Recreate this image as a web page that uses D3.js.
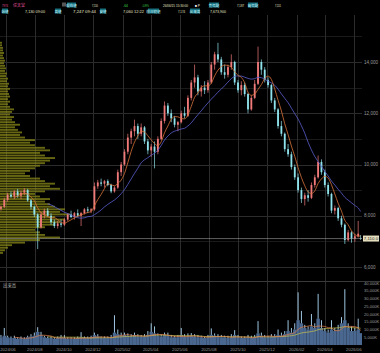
<!DOCTYPE html>
<html><head><meta charset="utf-8">
<script src="https://cdn.jsdelivr.net/npm/d3@7"></script>
<style>
html,body{margin:0;padding:0;background:#000;overflow:hidden}
svg{display:block}
text{font-family:"Liberation Sans","Noto Sans CJK JP",sans-serif}
</style>
</head><body>
<svg id="c" width="380" height="353"></svg>
<script>
// ---------- DATA (weekly, from week of 2024-05-20) ----------
const firstWeek = "2024-05-20";
const lastDay = "2026-06-15";
const opens  = [8270,8350,8620,8820,8750,8950,8780,8900,9000,8600,8350,8050,7550,8050,8200,8000,7750,7600,7700,7650,7850,8050,7950,8100,8000,8100,8250,8200,8250,9150,9300,9250,9350,9200,8950,9100,9700,10000,10500,11050,11300,11500,11200,11450,10900,10550,10700,10500,11000,11700,12300,12000,11800,11550,11650,12000,11900,12600,13200,13400,12850,13000,12900,13200,13900,14300,14100,13600,13500,13800,14000,13200,12900,13100,12750,12150,12600,13150,14000,13700,13300,13100,12500,12150,11500,11200,10600,10400,9900,9500,9000,8650,8800,8700,9200,9500,10100,9700,9200,8850,8200,8300,7900,7650,7050,7350,7100,7200,7130];
const highs  = [8400,8700,8900,8950,9000,9050,8980,9080,9050,8650,8400,8100,8150,8280,8300,8100,7850,7800,7850,7900,8100,8200,8150,8250,8150,8300,8350,8300,9300,9400,9450,9400,9420,9250,9150,9800,10100,10600,11200,11400,11750,11600,11600,11500,11000,10800,10900,11100,11800,12460,12400,12150,11900,11700,12100,12250,12700,13300,13900,13500,13100,13250,13300,14000,14400,14750,14200,13900,13900,14300,14050,13300,13250,13200,12800,12700,13300,14600,14100,13800,13400,13150,12600,12200,11700,11250,10800,10500,10000,9650,9100,8900,9000,9300,9600,10350,10200,9800,9300,8900,8400,8350,8000,7700,7450,7400,7300,7800,7247];
const lows   = [8200,8300,8550,8700,8650,8700,8650,8800,8550,8250,7950,6700,7500,7900,7950,7650,7520,7500,7550,7600,7800,7900,7850,7950,7600,8050,8100,8100,8200,9050,9150,9100,9150,8880,8900,9050,9550,9950,10400,10800,11100,11000,11100,10800,10400,10300,9850,10400,10950,11600,11900,11650,11450,11300,11600,11800,11850,12500,13000,12700,12650,12750,12800,13150,13700,14000,13500,13350,13400,13700,13100,12800,12700,12650,12000,12100,12550,13100,13500,13200,13000,12400,12050,11400,11100,10500,10300,9800,9400,8900,8500,8400,8550,8650,9100,9450,9600,9100,8750,8100,8050,7800,7550,6900,7000,6950,6980,7150,7060];
const closes = [8350,8620,8820,8750,8950,8780,8900,9000,8600,8350,8050,7550,8050,8200,8000,7750,7600,7700,7650,7850,8050,7950,8100,8000,8100,8250,8200,8250,9150,9300,9250,9350,9200,8950,9100,9700,10000,10500,11050,11300,11500,11200,11450,10900,10550,10700,10500,11000,11700,12300,12000,11800,11550,11650,12000,11900,12600,13200,13400,12850,13000,12900,13200,13900,14300,14100,13600,13500,13800,14000,13200,12900,13100,12750,12150,12600,13150,14000,13700,13300,13100,12500,12150,11500,11200,10600,10400,9900,9500,9000,8650,8800,8700,9200,9500,10100,9700,9200,8850,8200,8300,7900,7650,7050,7350,7100,7200,7300,7110];
// daily volume in thousand shares: typical level of the week and the week's peak day
const volAvg = [5000,6000,5000,4500,4500,4000,4500,4000,5000,5500,6000,8500,6500,5000,4500,4500,4000,4500,5000,4500,4000,4000,4000,4500,5000,4500,4500,5000,6500,5500,4500,4500,4500,5000,8000,7000,6000,6500,6000,5500,6500,5500,5500,5500,6500,8500,7500,6000,5500,6500,6000,5000,5000,5000,6500,5500,5500,6000,5500,5000,5000,4500,5000,6500,6000,5500,5000,5000,4500,5000,6500,5000,4500,4500,5000,4500,5000,7500,6000,5000,5000,5500,5500,6500,6000,7000,9000,8000,10000,16000,14000,11000,10000,12000,11000,17000,11000,9000,8000,10000,9000,10000,14000,16000,11000,9000,9000,10000,7674];
const volMax = [6500,11000,6000,5500,6000,5000,5500,5000,6000,7000,8000,11500,8500,6000,5500,5500,5000,5500,6500,6400,5000,5000,5000,5500,8300,5500,5500,6000,8000,7000,5500,5500,5500,6500,19200,10000,8000,8000,7500,7000,8000,7000,6500,7000,9000,14000,12000,7500,7000,8000,8000,6500,6000,6500,11000,7000,7500,7700,7000,6500,6000,5500,6500,10700,7500,7000,6500,6000,6000,7000,9600,6500,5500,5500,6500,6000,6500,15400,8000,6500,6000,7000,7000,10000,8000,9000,16000,11000,14000,34000,22000,13000,12000,20000,14000,33000,16000,11000,10000,16000,11000,13000,18000,36000,14000,12000,11000,17000,7674];
// volume-by-price profile (x10,000 shares per 100-yen level, starting at 6,500)
const profileStart = 6500, profileStep = 100;
const profileVol = [3,5,8,12,25,40,60,45,40,35,45,55,60,65,55,70,60,65,55,50,45,50,40,35,45,60,50,55,45,40,30,25,30,35,40,45,50,55,45,40,50,45,35,30,35,25,20,22,18,15,20,15,12,14,10,12,14,10,8,10,8,10,9,8,10,8,9,7,8,6,7,5,6,5,4,5,4,3,4,3,3,2,2];
const priceTicks = [6000,8000,10000,12000,14000];
const priceGrid = [6000,7000,8000,9000,10000,11000,12000,13000,14000,15000];
const volTicks = [5000,10000,15000,20000,25000,30000,35000,40000];
const monthLabels = ["2024/06","2024/08","2024/10","2024/12","2025/02","2025/04","2025/06","2025/08","2025/10","2025/12","2026/02","2026/04","2026/06"];
const lastPrice = 7110;
const maShort = 5, maLong = 15; // weeks (≈25 / 75 days)

// ---------- DRAW ----------
const svg = d3.select("#c");
const W = 380, plotR = 362, pTop = 15, pBot = 281, vTop = 281, vBot = 345;
const parse = d3.timeParse("%Y-%m-%d");
const start = parse(firstWeek), endDay = parse(lastDay);
const dates = opens.map((_, i) => d3.timeDay.offset(start, 7 * i));
const x = d3.scaleTime().domain([start, parse("2026-06-18")]).range([0, plotR]);
const cx = (d) => { let m = d3.timeDay.offset(d, 2); if (m > endDay) m = endDay; return x(m); };
const y = d3.scaleLinear().domain([6000, 14000]).range([267, 62]);
const yv = d3.scaleLinear().domain([0, 40000]).range([vBot, 283]);
const fmt = d3.format(",");

svg.append("rect").attr("width", W).attr("height", 353).attr("fill", "#000");
const defs = svg.append("defs");
defs.append("clipPath").attr("id", "pc").append("rect").attr("x", 0).attr("y", pTop).attr("width", plotR).attr("height", pBot - pTop);
defs.append("clipPath").attr("id", "vc").append("rect").attr("x", 0).attr("y", vTop).attr("width", plotR).attr("height", vBot - vTop);

// grid
const g = svg.append("g");
g.selectAll(".hg").data(priceGrid).join("line")
  .attr("x1", 0).attr("x2", plotR).attr("y1", d => Math.round(y(d)) + 0.5).attr("y2", d => Math.round(y(d)) + 0.5)
  .attr("stroke", d => d % 2000 === 0 ? "#2c2c2c" : "#1a1a1a").attr("stroke-width", 1)
  .attr("clip-path", "url(#pc)");
const monthDates = monthLabels.map(m => d3.timeParse("%Y/%m")(m));
g.selectAll(".vg").data(monthDates).join("line")
  .attr("x1", d => Math.round(x(d)) + 0.5).attr("x2", d => Math.round(x(d)) + 0.5)
  .attr("y1", pTop).attr("y2", vBot).attr("stroke", "#2c2c2c");
svg.append("line").attr("x1", 0).attr("x2", W).attr("y1", pBot + 0.5).attr("y2", pBot + 0.5).attr("stroke", "#3a3a3a");

// volume profile
const pw = d3.scaleLinear().domain([0, 100]).range([0, 100]);
svg.append("g").attr("clip-path", "url(#pc)").selectAll("rect").data(profileVol).join("rect")
  .attr("x", 0)
  .attr("y", (d, i) => y(profileStart + profileStep * (i + 0.5)) - 1)
  .attr("height", 1.9)
  .attr("width", d => pw(d))
  .attr("fill", "#8a8a1a").attr("opacity", 0.75);

// candles
const cg = svg.append("g").attr("clip-path", "url(#pc)");
const up = "#f07a7a", dn = "#8fe3ec";
const idx = d3.range(opens.length);
cg.selectAll(".wick").data(idx).join("line")
  .attr("x1", i => cx(dates[i])).attr("x2", i => cx(dates[i]))
  .attr("y1", i => y(highs[i])).attr("y2", i => y(lows[i]))
  .attr("stroke", i => closes[i] >= opens[i] ? up : dn).attr("stroke-width", 0.7);
cg.selectAll(".body").data(idx).join("rect")
  .attr("x", i => cx(dates[i]) - 0.9).attr("width", 1.8)
  .attr("y", i => y(Math.max(opens[i], closes[i])))
  .attr("height", i => Math.max(0.8, Math.abs(y(opens[i]) - y(closes[i]))))
  .attr("fill", i => closes[i] >= opens[i] ? up : dn);

// moving averages
function ma(arr, n) { return arr.map((v, i) => i < n - 1 ? null : d3.mean(arr.slice(i - n + 1, i + 1))); }
const line = (yy) => d3.line().defined(d => d[1] != null).x(d => cx(d[0])).y(d => yy(d[1])).curve(d3.curveMonotoneX);
const maS = ma(closes, maShort), maL = ma(closes, maLong);
cg.append("path").attr("d", line(y)(dates.map((d, i) => [d, maL[i]]))).attr("fill", "none").attr("stroke", "#5a5fd0").attr("stroke-width", 0.8);
cg.append("path").attr("d", line(y)(dates.map((d, i) => [d, maS[i]]))).attr("fill", "none").attr("stroke", "#d9733a").attr("stroke-width", 0.8);

// current price line & label
svg.append("line").attr("x1", 0).attr("x2", plotR).attr("y1", y(lastPrice)).attr("y2", y(lastPrice)).attr("stroke", "#9a9a9a").attr("stroke-width", 0.6);
svg.append("rect").attr("x", 363).attr("y", y(lastPrice) - 3).attr("width", 16).attr("height", 6).attr("fill", "#e6dfbf");
svg.append("text").attr("x", 371).attr("y", y(lastPrice) + 1.6).attr("text-anchor", "middle").attr("font-size", 4.4).attr("fill", "#222").text(d3.format(",.1f")(lastPrice));

// price axis labels
svg.selectAll(".pt").data(priceTicks).join("text")
  .attr("x", 364).attr("y", d => y(d) + 1.6).attr("font-size", 4.6).attr("fill", "#9a9a9a").text(d => fmt(d));

// volume
const vg = svg.append("g").attr("clip-path", "url(#vc)");
vg.selectAll(".va").data(idx).join("rect")
  .attr("x", i => cx(dates[i]) - 1.7).attr("width", 3.4)
  .attr("y", i => yv(volAvg[i])).attr("height", i => vBot - yv(volAvg[i]))
  .attr("fill", "#4a6790");
vg.selectAll(".vm").data(idx).join("rect")
  .attr("x", i => cx(dates[i]) - 0.5).attr("width", 1)
  .attr("y", i => yv(volMax[i])).attr("height", i => Math.max(0, yv(volAvg[i]) - yv(volMax[i])))
  .attr("fill", "#9cc4df");
const vmaS = ma(volAvg, maShort), vmaL = ma(volAvg, maLong);
vg.append("path").attr("d", line(yv)(dates.map((d, i) => [d, vmaL[i]]))).attr("fill", "none").attr("stroke", "#c9c24a").attr("stroke-width", 0.7);
vg.append("path").attr("d", line(yv)(dates.map((d, i) => [d, vmaS[i]]))).attr("fill", "none").attr("stroke", "#e0804a").attr("stroke-width", 0.7);
svg.selectAll(".vt").data(volTicks).join("text")
  .attr("x", 364).attr("y", d => yv(d) + 1.5).attr("font-size", 4.1).attr("fill", "#9a9a9a").text(d => fmt(d) + "K");
svg.append("text").attr("x", 3).attr("y", 286.5).attr("font-size", 4.4).attr("fill", "#bbbbbb").attr("font-family", "Noto Sans CJK JP").text("出来高");

// x labels
svg.selectAll(".xl").data(monthDates).join("text")
  .attr("x", d => Math.max(8, x(d))).attr("y", 350.5).attr("text-anchor", "middle").attr("font-size", 4.3).attr("fill", "#9a9a9a")
  .text((d, i) => monthLabels[i]);

// header
const hdr = svg.append("g");
function box(xp, yp, w, t) {
  hdr.append("rect").attr("x", xp).attr("y", yp - 4).attr("width", w).attr("height", 5).attr("fill", "#17707f");
  hdr.append("text").attr("x", xp + w / 2).attr("y", yp).attr("text-anchor", "middle").attr("font-size", 3.6)
    .attr("font-family", "Noto Sans CJK JP").attr("fill", "#c8f4fa").text(t);
}
function txt(xp, yp, t, w, c, cjk) {
  const e = hdr.append("text").attr("x", xp).attr("y", yp).attr("font-size", 4).attr("fill", c || "#e8e6c8").text(t);
  if (w) e.attr("textLength", w).attr("lengthAdjust", "spacingAndGlyphs");
  if (cjk) e.attr("font-family", "Noto Sans CJK JP");
}
txt(2, 6.5, "7974", 6, "#e0509a"); txt(13, 6.5, "任天堂", 12, "#e0509a", true);
hdr.append("rect").attr("x", 62).attr("y", 2.5).attr("width", 4).attr("height", 4).attr("fill", "#555");
box(67, 6.5, 9, "現在値"); txt(92, 6.5, "7,110", 6);
txt(123, 6.5, "-64", 5, "#3fd24a"); txt(142, 6.5, "-0.89%", 7, "#3fd24a");
txt(163, 6.5, "26/06/15 15:30:00", 25);
txt(195, 6.5, "■ P", 5, "#ffffff");
box(209, 6.5, 10, "売気配"); txt(237, 6.5, "7,187", 7);
box(248, 6.5, 10, "買気配"); txt(275, 6.5, "7,111", 6);
box(2, 12.5, 6, "始値"); txt(25, 12.5, "7,130 09:00", 20);
box(55, 12.5, 6, "高値"); txt(73, 12.5, "7,247 09:44", 23);
box(100, 12.5, 6, "安値"); txt(123, 12.5, "7,060 12:22", 21);
box(148, 12.5, 11, "前日終値"); txt(178, 12.5, "7,174", 7);
box(190, 12.5, 10, "出来高"); txt(210, 12.5, "7,673,900", 16);
</script>
</body></html>
